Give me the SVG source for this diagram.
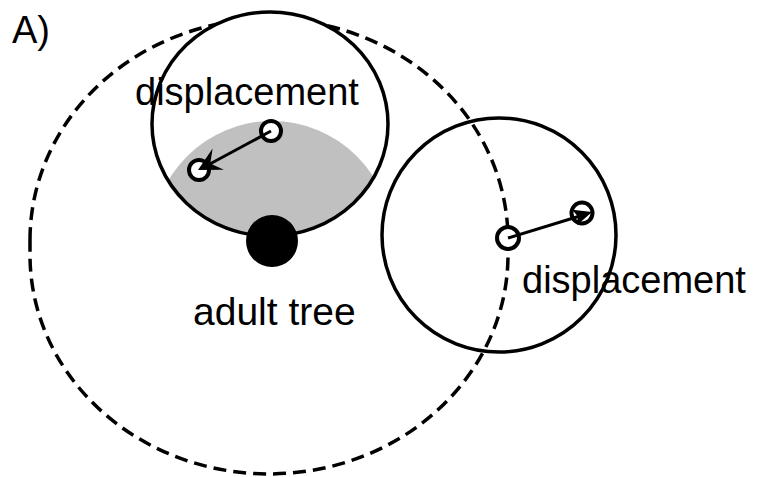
<svg xmlns="http://www.w3.org/2000/svg" width="757" height="477" viewBox="0 0 757 477">
<style>
.ring{fill:none;stroke:#000;stroke-width:3.5}
.dot{fill:#fff;stroke:#000;stroke-width:4}
.lbl{font-family:"Liberation Sans",Arial,sans-serif;font-size:38px;fill:#000}
.arr{stroke:#000;stroke-width:3;fill:none}
.head{fill:#000;stroke:none}
</style>
<defs>
<clipPath id="topclip"><ellipse cx="270" cy="124" rx="118" ry="112"/></clipPath>
</defs>
<rect width="757" height="477" fill="#fff"/>
<g id="label-a"><text class="lbl" x="12" y="43">A)</text></g>
<g id="dispersal-range"><path d="M30,240 A239,221 0 0 1 508,240 L508,255 A239,219 0 0 1 30,255 Z" fill="none" stroke="#000" stroke-width="3.5" stroke-dasharray="13 7"/></g>
<g id="crown-zone">
<ellipse cx="270" cy="124" rx="118" ry="112" fill="#fff"/>
<circle cx="272" cy="241" r="120" fill="#c0c0c0" clip-path="url(#topclip)"/>
<ellipse class="ring" cx="270" cy="124" rx="118" ry="112"/>
</g>
<g id="adult-tree">
<circle cx="272" cy="241" r="26" fill="#000"/>
<text class="lbl" x="193" y="325" style="font-size:39px">adult tree</text>
</g>
<g id="right-zone"><circle class="ring" cx="499" cy="235" r="117"/></g>
<g id="seed-a1"><circle class="dot" cx="271" cy="131" r="10"/></g>
<g id="seed-a2"><circle class="dot" cx="199" cy="170" r="10"/></g>
<g id="seed-b1"><circle class="dot" cx="508" cy="238" r="11"/></g>
<g id="seed-b2"><circle class="dot" cx="582" cy="213" r="10.5"/></g>
<g id="connectors">
<line class="arr" x1="271" y1="131" x2="208" y2="165"/>
<path class="head" d="M198,170 L212.6,148.6 L210.3,163.4 L223.9,169.8 Z"/>
<line class="arr" x1="508" y1="238" x2="580" y2="216"/>
<path class="head" d="M592,212 L572.4,209.7 L577.7,216.4 L577.2,224.9 Z"/>
</g>
<g id="labels">
<text class="lbl" x="135" y="105">displacement</text>
<text class="lbl" x="522" y="293">displacement</text>
</g>
</svg>
